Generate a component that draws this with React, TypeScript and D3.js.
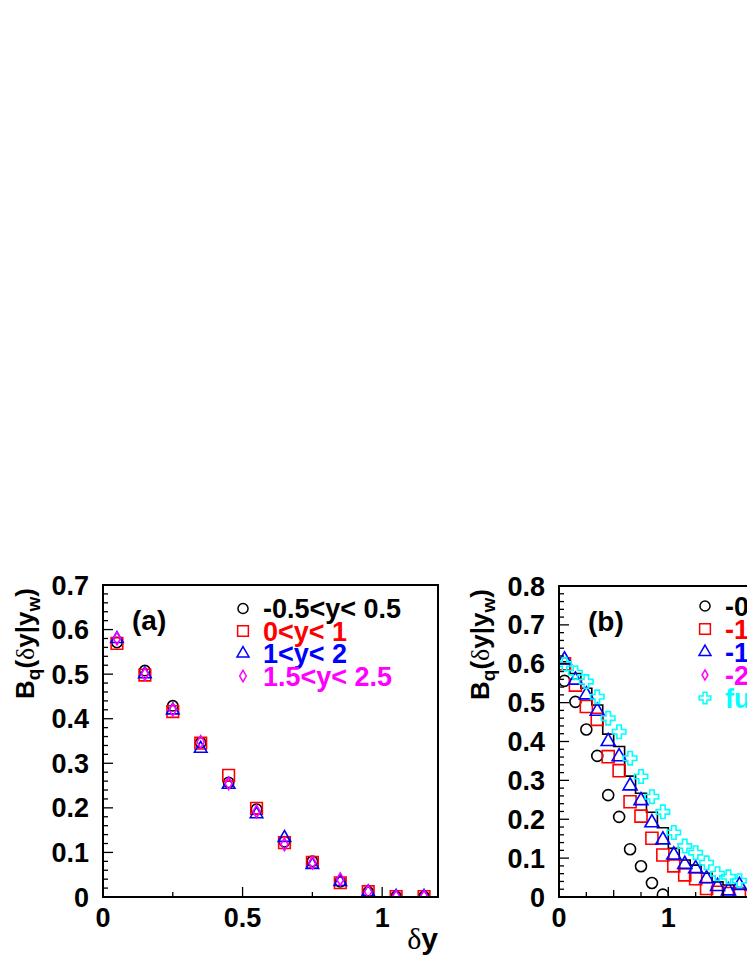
import * as d3 from 'd3';

// ---- panel (a): B_q(dy|y_w) for four rapidity windows ----
const aBins = [0.05, 0.15, 0.25, 0.35, 0.45, 0.55, 0.65, 0.75, 0.85, 0.95, 1.05, 1.15];
const aCircle = [0.571, 0.508, 0.429, 0.346, 0.257, 0.197, 0.124, 0.080, 0.034, 0.011, 0.001, 0.001];
const aSquare = [0.569, 0.498, 0.416, 0.345, 0.273, 0.199, 0.122, 0.078, 0.032, 0.012, 0.001, 0.001];
const aTriangle = [0.579, 0.500, 0.419, 0.333, 0.252, 0.186, 0.133, 0.072, 0.034, 0.011, 0.001, 0.001];
const aDiamond = [0.580, 0.500, 0.420, 0.348, 0.255, 0.192, 0.118, 0.077, 0.040, 0.012, 0.001, 0.001];
const aLegend = ['-0.5<y< 0.5', '0<y< 1', '1<y< 2', '1.5<y< 2.5'];
const aYTicks = ['0', '0.1', '0.2', '0.3', '0.4', '0.5', '0.6', '0.7'];
const aXTicks = ['0', '0.5', '1'];

// ---- panel (b): widening windows + histogram ----
const bBins = [0.05, 0.15, 0.25, 0.35, 0.45, 0.55, 0.65, 0.75, 0.85, 0.95, 1.05, 1.15, 1.25, 1.35, 1.45, 1.55, 1.65];
const bCircle = [0.556, 0.502, 0.431, 0.363, 0.262, 0.206, 0.123, 0.079, 0.036, 0.006];
const bSquare = [0.600, 0.545, 0.490, 0.457, 0.361, 0.325, 0.245, 0.208, 0.151, 0.108, 0.080, 0.057, 0.047, 0.022, 0.012, 0.009, 0.008];
const bTriangle = [0.610, 0.558, 0.520, 0.478, 0.400, 0.361, 0.286, 0.248, 0.191, 0.147, 0.108, 0.084, 0.073, 0.047, 0.027, 0.016, 0.030];
const bCross = [0.599, 0.577, 0.554, 0.515, 0.460, 0.425, 0.357, 0.310, 0.258, 0.219, 0.166, 0.131, 0.114, 0.088, 0.060, 0.052, 0.042];
const bHistBins = [0.05, 0.15, 0.25, 0.35, 0.45, 0.55, 0.65, 0.75, 0.85, 0.95, 1.05, 1.15, 1.25, 1.35, 1.45, 1.55, 1.65, 1.75, 1.85, 1.95];
const bHist = [0.605, 0.575, 0.537, 0.494, 0.419, 0.387, 0.311, 0.267, 0.218, 0.178, 0.125, 0.095, 0.082, 0.061, 0.039, 0.031, 0.024, 0.018, 0.013, 0.009];
const bLegend = ['-0.5<y< 0.5', '-1<y< 1', '-1.5<y< 1.5', '-2<y< 2', 'full'];
const bYTicks = ['0', '0.1', '0.2', '0.3', '0.4', '0.5', '0.6', '0.7', '0.8'];
const bXTicks = ['0', '1', '2', '3'];

type Series = { xs: number[]; ys: number[]; shape: d3.SymbolType; size: number; color: string };

const font = 'Liberation Sans, Arial, Helvetica, sans-serif';
const serif = 'Liberation Serif, Times New Roman, serif';

type PanelProps = {
  id: string;
  left: number;
  top: number;
  width: number;
  height: number;
  xMax: number;
  yMax: number;
  xTicks: string[];
  xMinor: number[];
  yTicks: string[];
  series: Series[];
  hist?: { xs: number[]; ys: number[] };
  legend: { label: string; color: string; shape: d3.SymbolType; size: number }[];
  legendX: number;
  legendY: number;
  legendStep: number;
  tag: string;
  titleX: number;
};

function Panel(p: PanelProps) {
  const x = d3.scaleLinear().domain([0, p.xMax]).range([p.left, p.left + p.width]);
  const y = d3.scaleLinear().domain([0, p.yMax]).range([p.top + p.height, p.top]);
  const bottom = p.top + p.height;

  // y ticks: major every 0.1, minor every 0.02
  const yMinor = d3.range(0, p.yMax + 1e-9, 0.02);
  const tickEls = [];
  for (let i = 0; i < yMinor.length; i++) {
    const v = yMinor[i];
    const major = Math.abs(v * 10 - Math.round(v * 10)) < 1e-6;
    tickEls.push(<line key={`yt${i}`} x1={p.left} x2={p.left + (major ? 10 : 5)} y1={y(v)} y2={y(v)} />);
  }
  for (let i = 0; i < p.xTicks.length; i++) {
    const v = +p.xTicks[i];
    tickEls.push(<line key={`xt${i}`} x1={x(v)} x2={x(v)} y1={bottom} y2={bottom - 10} />);
  }
  for (let i = 0; i < p.xMinor.length; i++) {
    const v = p.xMinor[i];
    const len = Math.abs(v - Math.round(v * 2) / 2) < 1e-6 ? 7 : 5;
    tickEls.push(<line key={`xm${i}`} x1={x(v)} x2={x(v)} y1={bottom} y2={bottom - len} />);
  }

  const markers = [];
  for (let s = 0; s < p.series.length; s++) {
    const ser = p.series[s];
    const path = d3.symbol().type(ser.shape).size(ser.size)()!;
    for (let i = 0; i < ser.ys.length; i++) {
      markers.push(
        <path
          key={`m${s}_${i}`}
          d={path}
          transform={`translate(${x(ser.xs[i])},${y(ser.ys[i])})`}
          fill='none'
          stroke={ser.color}
          strokeWidth={1.6}
        />
      );
    }
  }

  let histPath = null;
  if (p.hist) {
    const pts: [number, number][] = p.hist.xs.map((c, i) => [c - 0.05, p.hist!.ys[i]]);
    pts.push([p.hist.xs[p.hist.xs.length - 1] + 0.05, p.hist.ys[p.hist.ys.length - 1]]);
    const line = d3
      .line<[number, number]>()
      .x((d) => x(d[0]))
      .y((d) => y(d[1]))
      .curve(d3.curveStepAfter);
    histPath = <path d={line(pts)!} fill='none' stroke='black' strokeWidth={1.6} />;
  }

  const legendEls = [];
  for (let i = 0; i < p.legend.length; i++) {
    const e = p.legend[i];
    const cy = p.legendY + i * p.legendStep;
    legendEls.push(
      <g key={`lg${i}`}>
        <path
          d={d3.symbol().type(e.shape).size(e.size)()!}
          transform={`translate(${p.legendX},${cy})`}
          fill='none'
          stroke={e.color}
          strokeWidth={1.5}
        />
        <text x={p.legendX + 20} y={cy + 9.5} fill={e.color} fontSize={27} fontWeight='bold' fontFamily={font}>
          {e.label}
        </text>
      </g>
    );
  }

  return (
    <g>
      <defs>
        <clipPath id={`clip_${p.id}`}>
          <rect x={p.left} y={p.top} width={p.width} height={p.height} />
        </clipPath>
      </defs>
      <g clipPath={`url(#clip_${p.id})`}>
        {histPath}
        {markers}
      </g>
      <rect x={p.left} y={p.top} width={p.width} height={p.height} fill='none' stroke='black' strokeWidth={2} />
      <g stroke='black' strokeWidth={1.3}>{tickEls}</g>
      <g fontFamily={font} fontWeight='bold' fontSize={27} fill='black'>
        {p.yTicks.map((t, i) => (
          <text key={`yl${i}`} x={p.left - 14} y={y(+t) + 9.6} textAnchor='end'>
            {t}
          </text>
        ))}
        {p.xTicks.map((t, i) => (
          <text key={`xl${i}`} x={x(+t)} y={bottom + 30} textAnchor='middle'>
            {t}
          </text>
        ))}
        <text x={p.left + 29} y={p.top + 44.5} fontSize={28}>
          {p.tag}
        </text>
      </g>
      {legendEls}
      <text
        transform={`translate(${p.titleX},${p.top + 3}) rotate(-90)`}
        textAnchor='end'
        fontFamily={font}
        fontWeight='bold'
        fontSize={26}
      >
        <tspan>B</tspan>
        <tspan dy={6} fontSize={19}>q</tspan>
        <tspan dy={-6}>(</tspan>
        <tspan fontFamily={serif} fontWeight='normal'>δ</tspan>
        <tspan>y|y</tspan>
        <tspan dy={6} fontSize={19}>w</tspan>
        <tspan dy={-6}>)</tspan>
      </text>
      <text x={p.left + p.width} y={bottom + 52} textAnchor='end' fontSize={30} fontFamily={font} fontWeight='bold'>
        <tspan fontFamily={serif} fontWeight='normal'>δ</tspan>
        <tspan>y</tspan>
      </text>
    </g>
  );
}

export default function App() {
  const sq = d3.symbolSquare;
  const tri = d3.symbolTriangle;
  const dia = d3.symbolDiamond;
  const crs = d3.symbolCross;

  const aSeries: Series[] = [
    { xs: aBins, ys: aCircle, shape: d3.symbolCircle, size: 85, color: 'black' },
    { xs: aBins, ys: aSquare, shape: sq, size: 135, color: '#ff0000' },
    { xs: aBins, ys: aTriangle, shape: tri, size: 68, color: '#0000ff' },
    { xs: aBins, ys: aDiamond, shape: dia, size: 46, color: '#ff00ff' },
  ];
  const bSeries: Series[] = [
    { xs: bBins, ys: bCircle, shape: d3.symbolCircle, size: 95, color: 'black' },
    { xs: bBins, ys: bSquare, shape: sq, size: 145, color: '#ff0000' },
    { xs: bBins, ys: bTriangle, shape: tri, size: 85, color: '#0000ff' },
    { xs: bBins, ys: bCross, shape: crs, size: 100, color: '#00ffff' },
  ];

  const aLeg = [
    { label: aLegend[0], color: 'black', shape: d3.symbolCircle, size: 80 },
    { label: aLegend[1], color: '#ff0000', shape: sq, size: 115 },
    { label: aLegend[2], color: '#0000ff', shape: tri, size: 62 },
    { label: aLegend[3], color: '#ff00ff', shape: dia, size: 38 },
  ];
  const bLeg = [
    { label: bLegend[0], color: 'black', shape: d3.symbolCircle, size: 80 },
    { label: bLegend[1], color: '#ff0000', shape: sq, size: 115 },
    { label: bLegend[2], color: '#0000ff', shape: tri, size: 62 },
    { label: bLegend[3], color: '#ff00ff', shape: dia, size: 30 },
    { label: bLegend[4], color: '#00ffff', shape: crs, size: 75 },
  ];

  return (
    <svg width={747} height={967} style={{ position: 'absolute', left: 0, top: 0, overflow: 'hidden' }}>
      <rect width={747} height={967} fill='white' />
      <Panel
        id='a'
        left={103}
        top={585}
        width={335}
        height={312}
        xMax={1.2}
        yMax={0.7}
        xTicks={aXTicks}
        xMinor={[0.25, 0.75]}
        yTicks={aYTicks}
        series={aSeries}
        legend={aLeg}
        legendX={243}
        legendY={608.5}
        legendStep={22.5}
        tag='(a)'
        titleX={33.5}
      />
      <Panel
        id='b'
        left={559}
        top={586}
        width={328}
        height={311}
        xMax={3}
        yMax={0.8}
        xTicks={bXTicks}
        xMinor={[0.25, 0.5, 0.75, 1.25, 1.5, 1.75, 2.25, 2.5, 2.75]}
        yTicks={bYTicks}
        series={bSeries}
        hist={{ xs: bHistBins, ys: bHist }}
        legend={bLeg}
        legendX={705}
        legendY={606}
        legendStep={23}
        tag='(b)'
        titleX={488.5}
      />
    </svg>
  );
}
